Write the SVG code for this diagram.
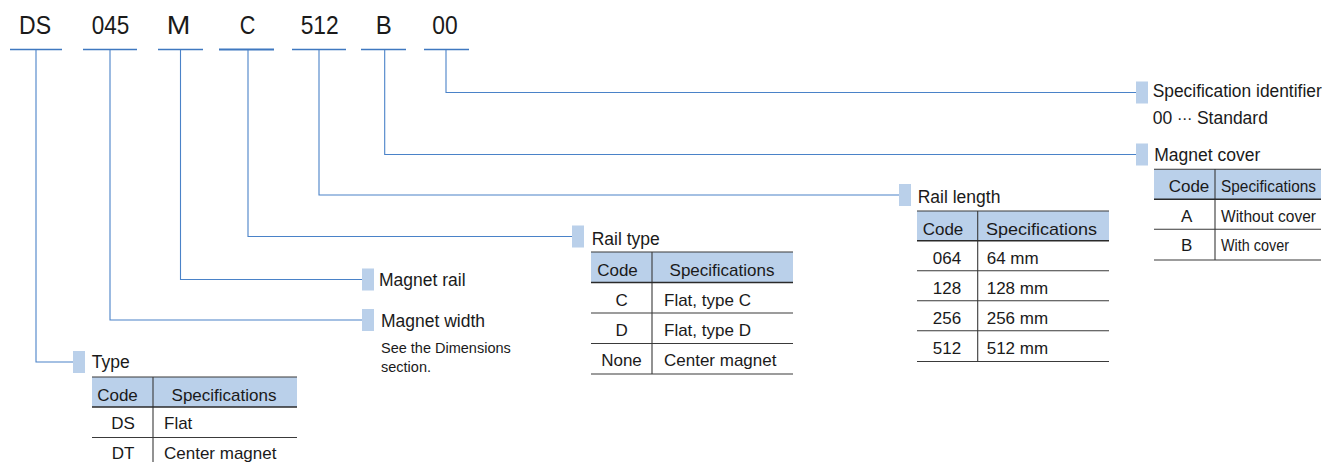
<svg xmlns="http://www.w3.org/2000/svg" width="1337" height="462" viewBox="0 0 1337 462">
<style>
text{font-family:"Liberation Sans",Arial,sans-serif;fill:#1a1a1a}
.code{font-size:26px}
.lbl{font-size:17.5px}
.note{font-size:14.5px}
.tb{font-size:17px}
.m{text-anchor:middle}
.ul{stroke:#3f78c0;stroke-width:1.6;fill:none}
.con{stroke:#4a82c8;stroke-width:1.1;fill:none}
.mk{fill:#bad0ea}
.hdr{fill:#bad0ea}
.rl{stroke:#3a3a3a;stroke-width:1.1;fill:none}
.hl{stroke:#2a2a2a;stroke-width:1.4;fill:none}
</style>
<g id="codes">
<g id="code-DS"><text class="code" x="19" y="34" textLength="32" lengthAdjust="spacingAndGlyphs">DS</text><line class="ul" x1="10" y1="49.5" x2="62" y2="49.5"/></g>
<g id="code-045"><text class="code" x="91.7" y="34" textLength="37.6" lengthAdjust="spacingAndGlyphs">045</text><line class="ul" x1="83" y1="49.5" x2="137" y2="49.5"/></g>
<g id="code-M"><text class="code" x="166.7" y="34" textLength="23.6" lengthAdjust="spacingAndGlyphs">M</text><line class="ul" x1="158" y1="49.5" x2="203" y2="49.5"/></g>
<g id="code-C"><text class="code" x="239.7" y="34" textLength="15.6" lengthAdjust="spacingAndGlyphs">C</text><line class="ul" x1="219" y1="49.5" x2="274" y2="49.5" style="stroke-width:2"/></g>
<g id="code-512"><text class="code" x="300.7" y="34" textLength="38" lengthAdjust="spacingAndGlyphs">512</text><line class="ul" x1="292" y1="49.5" x2="346" y2="49.5"/></g>
<g id="code-B"><text class="code" x="375.7" y="34" textLength="16" lengthAdjust="spacingAndGlyphs">B</text><line class="ul" x1="361" y1="49.5" x2="406" y2="49.5"/></g>
<g id="code-00"><text class="code" x="432.3" y="34" textLength="25.4" lengthAdjust="spacingAndGlyphs">00</text><line class="ul" x1="424" y1="49.5" x2="469" y2="49.5"/></g>
</g>
<g id="connectors">
<path class="con" d="M36 50 V362 H73"/>
<path class="con" d="M110 50 V320 H362"/>
<path class="con" d="M180.5 50 V279.5 H362"/>
<path class="con" d="M248 50 V236.5 H572"/>
<path class="con" d="M319 50 V195 H899"/>
<path class="con" d="M384.7 50 V154.5 H1136"/>
<path class="con" d="M446 50 V92.5 H1136"/>
</g>
<g id="node-type">
<rect class="mk" x="73" y="351" width="12" height="22"/>
<text class="lbl" x="91.7" y="368.3">Type</text>
<rect class="hdr" x="92" y="377" width="205" height="30"/>
<path class="rl" d="M92 377 H297 M92 437.5 H297 M153 377 V470"/>
<path class="hl" d="M92 407 H297"/>
<text class="tb m" x="117.5" y="401">Code</text>
<text class="tb m" x="224" y="401">Specifications</text>
<text class="tb m" x="123" y="429">DS</text>
<text class="tb" x="164" y="429">Flat</text>
<text class="tb m" x="123" y="459">DT</text>
<text class="tb" x="164" y="459">Center magnet</text>
</g>
<g id="node-magnet-width">
<rect class="mk" x="362" y="309" width="12" height="22"/>
<text class="lbl" x="381" y="327">Magnet width</text>
<text class="note" x="381" y="353.3">See the Dimensions</text>
<text class="note" x="381" y="371.7">section.</text>
</g>
<g id="node-magnet-rail">
<rect class="mk" x="362" y="268.5" width="12" height="22"/>
<text class="lbl" x="379" y="286">Magnet rail</text>
</g>
<g id="node-rail-type">
<rect class="mk" x="572" y="225.5" width="12" height="22"/>
<text class="lbl" x="591.7" y="245">Rail type</text>
<rect class="hdr" x="591" y="252" width="202" height="30.5"/>
<path class="rl" d="M591 252 H793 M591 313 H793 M591 343.5 H793 M591 374 H793 M652 252 V374"/>
<path class="hl" d="M591 282.5 H793"/>
<text class="tb m" x="617.5" y="276">Code</text>
<text class="tb m" x="722" y="276">Specifications</text>
<text class="tb m" x="621.7" y="306">C</text>
<text class="tb" x="664" y="306">Flat, type C</text>
<text class="tb m" x="621.7" y="336">D</text>
<text class="tb" x="664" y="336">Flat, type D</text>
<text class="tb m" x="621.5" y="366">None</text>
<text class="tb" x="664" y="366">Center magnet</text>
</g>
<g id="node-rail-length">
<rect class="mk" x="899" y="184" width="12" height="22"/>
<text class="lbl" x="917.7" y="202.7">Rail length</text>
<rect class="hdr" x="917" y="211" width="192" height="30"/>
<path class="rl" d="M917 211 H1109 M917 270.7 H1109 M917 300.7 H1109 M917 330.7 H1109 M917 361.5 H1109 M977.7 211 V361.5"/>
<path class="hl" d="M917 240.7 H1109"/>
<text class="tb m" x="943" y="234.5">Code</text>
<text class="tb m" x="1041.5" y="234.5" textLength="111" lengthAdjust="spacingAndGlyphs">Specifications</text>
<text class="tb m" x="947" y="263.5">064</text>
<text class="tb" x="986.7" y="263.5">64 mm</text>
<text class="tb m" x="947" y="293.5">128</text>
<text class="tb" x="986.7" y="293.5">128 mm</text>
<text class="tb m" x="947" y="324">256</text>
<text class="tb" x="986.7" y="324">256 mm</text>
<text class="tb m" x="947" y="354">512</text>
<text class="tb" x="986.7" y="354">512 mm</text>
</g>
<g id="node-magnet-cover">
<rect class="mk" x="1136" y="143.5" width="12" height="22"/>
<text class="lbl" x="1154.3" y="160.7">Magnet cover</text>
<rect class="hdr" x="1154" y="169.3" width="167" height="30"/>
<path class="rl" d="M1154 169.3 H1321 M1154 229.3 H1321 M1154 260 H1321 M1215 169.3 V260"/>
<path class="hl" d="M1154 199.3 H1321"/>
<text class="tb m" x="1189" y="191.7">Code</text>
<text class="tb" x="1221" y="191.7" textLength="95" lengthAdjust="spacingAndGlyphs">Specifications</text>
<text class="tb m" x="1186.7" y="221.7">A</text>
<text class="tb" x="1221" y="221.7" textLength="95" lengthAdjust="spacingAndGlyphs">Without cover</text>
<text class="tb m" x="1186.7" y="251">B</text>
<text class="tb" x="1221" y="251" textLength="68" lengthAdjust="spacingAndGlyphs">With cover</text>
</g>
<g id="node-spec-id">
<rect class="mk" x="1136" y="81.5" width="12" height="22"/>
<text class="lbl" x="1152.7" y="96.7" textLength="169" lengthAdjust="spacingAndGlyphs">Specification identifier</text>
<text class="lbl" x="1152.7" y="124">00 <tspan style="font-family:'DejaVu Sans',sans-serif;font-size:15px">⋯</tspan> Standard</text>
</g>
</svg>
